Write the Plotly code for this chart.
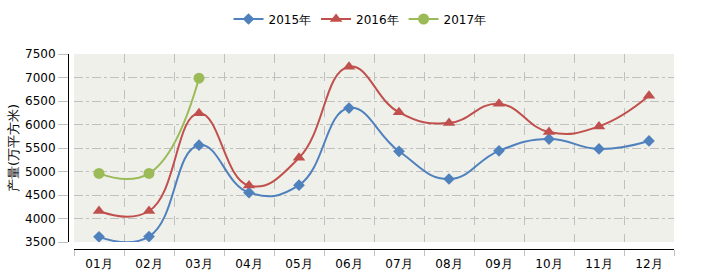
import plotly.graph_objects as go

months = ["01月", "02月", "03月", "04月", "05月", "06月", "07月", "08月", "09月", "10月", "11月", "12月"]
y2015 = [3610, 3615, 5560, 4550, 4710, 6350, 5430, 4840, 5440, 5690, 5480, 5650]
y2016 = [4160, 4160, 6240, 4700, 5290, 7230, 6260, 6030, 6440, 5840, 5960, 6610]
y2017 = [4960, 4960, 6985]
names = ["2015年", "2016年", "2017年"]
colors = ["#4F81BD", "#C0504D", "#9BBB59"]
symbols = ["diamond", "triangle-up", "circle"]
sizes = [9, 11, 11]
y_title = "产量(万平方米)"

W, H = 720, 278
FONT = "DejaVu Sans"

fig = go.Figure()
for name, ys, c, s, sz in zip(names, [y2015, y2016, y2017], colors, symbols, sizes):
    fig.add_trace(go.Scatter(
        x=months[:len(ys)], y=ys, name=name, mode="lines+markers",
        line=dict(color=c, width=2, shape="spline", smoothing=1.3),
        marker=dict(symbol=s, size=sz, color=c, line=dict(width=0)),
    ))

fig.update_layout(
    width=W, height=H, autosize=False,
    margin=dict(l=0, r=0, t=0, b=0, pad=0, autoexpand=False),
    paper_bgcolor="white", plot_bgcolor="#F0F0EA",
    font=dict(family=FONT, size=12, color="#000000"),
    showlegend=True,
    legend=dict(orientation="h", x=0.5, xanchor="center", y=1 - 19 / H, yanchor="middle",
                font=dict(family=FONT, size=12, color="#000000"), itemwidth=30,
                bgcolor="rgba(0,0,0,0)"),
    xaxis=dict(
        domain=[74 / W, 674 / W], anchor="free", position=1 - 249 / H,
        type="category", categoryorder="array", categoryarray=months,
        range=[-0.5, 11.5], tickson="boundaries",
        showline=True, linecolor="#000000", linewidth=1,
        ticks="outside", ticklen=6, tickcolor="#C0C0C0", tickwidth=1,
        ticklabelstandoff=4,
        showgrid=True, gridcolor="#C0C0C0", gridwidth=1, griddash="dash",
        zeroline=False, tickfont=dict(family=FONT, size=12, color="#000000"),
        automargin=False, fixedrange=True,
    ),
    yaxis=dict(
        domain=[1 - 242 / H, 1 - 54 / H], anchor="free", position=68 / W,
        range=[3500, 7500], dtick=500, tick0=3500,
        showline=True, linecolor="#000000", linewidth=1,
        ticks="outside", ticklen=10, tickcolor="#C0C0C0", tickwidth=1,
        showgrid=True, gridcolor="#C0C0C0", gridwidth=1, griddash="dashdot",
        zeroline=False, tickfont=dict(family=FONT, size=12, color="#000000"),
        automargin=False, fixedrange=True,
    ),
    annotations=[dict(
        text=y_title, textangle=-90, xref="paper", yref="paper",
        x=13 / W, y=1 - 148 / H, xanchor="center", yanchor="middle", showarrow=False,
        font=dict(family=FONT, size=13, color="#000000"),
    )],
)

fig.write_html("out.html")
